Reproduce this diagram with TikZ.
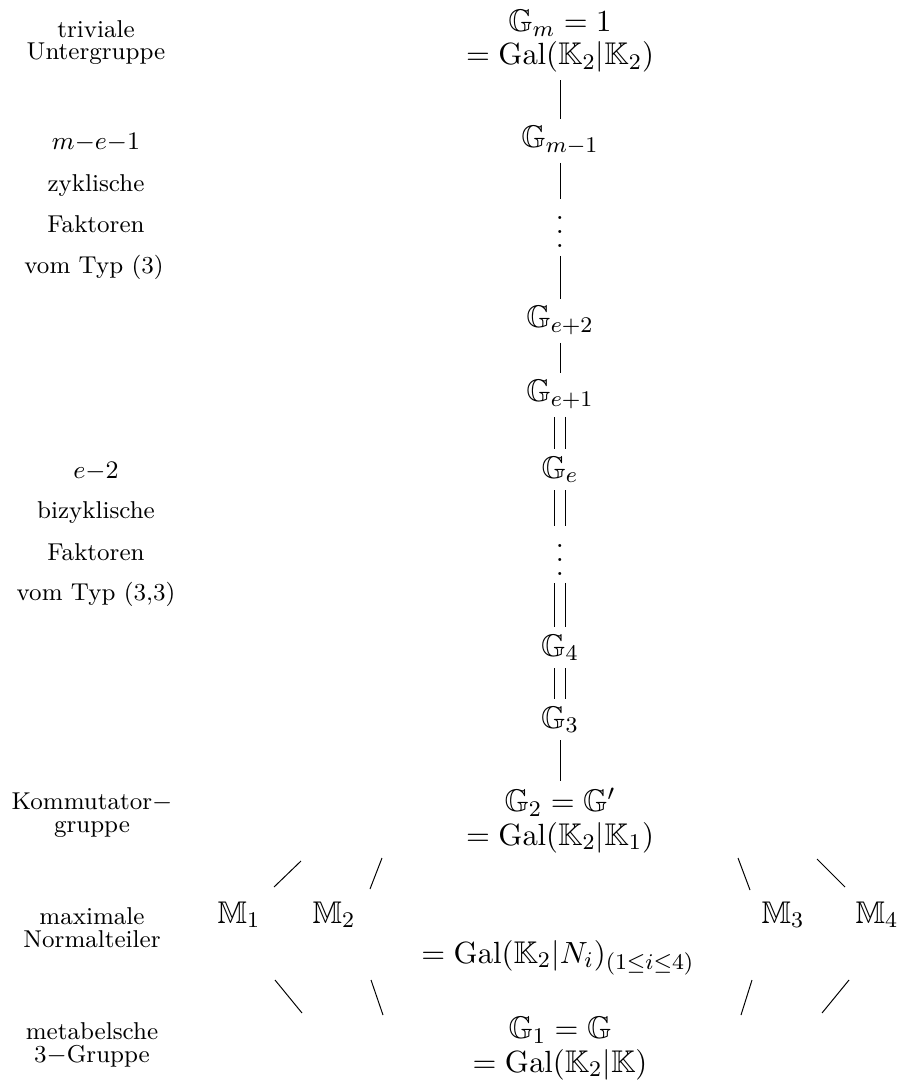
\documentclass[tikz,border=0pt]{standalone}
\usepackage{amssymb}
\newcommand{\GG}{\mathbb{G}}
\newcommand{\KK}{\mathbb{K}}
\newcommand{\MM}{\mathbb{M}}
\newcommand{\Gal}{\mathrm{Gal}}
% three stacked dots, slightly wider spaced than \vdots
\newcommand{\vdotsw}{\vbox{\kern3.5pt\baselineskip5pt\lineskiplimit0pt\hbox{.}\hbox{.}\hbox{.}}}
\begin{document}
\begin{tikzpicture}[x=0.35714pt,y=-0.35714pt,
  grp/.style={inner sep=0pt, outer sep=0pt, font=\fontsize{11.2}{11.8}\selectfont, align=center, anchor=base},
  lab/.style={inner sep=0pt, outer sep=0pt, font=\fontsize{8.7}{7.9}\selectfont, align=center, anchor=base},
  bar/.style={line width=0.35pt, shorten <=2.8pt, shorten >=2.8pt},
  dbar/.style={bar, double, double distance=3.9pt},
  slant/.style={line width=0.35pt}]
\useasboundingbox (0,0) rectangle (900,1081);

% subgroup chain (two-line nodes sit on the baseline of their last line)
\node[grp] (gm)  at (560,65)   {$\GG_m = 1$\\$= \Gal(\KK_2|\KK_2)$};
\node[grp] (gm1) at (560,148)  {$\GG_{m-1}$};
\node[grp] (d1)  at (560,248)  {\vdotsw};
\node[grp] (ge2) at (560,328)  {$\GG_{e+2}$};
\node[grp] (ge1) at (560,402)  {$\GG_{e+1}$};
\node[grp] (ge)  at (560,478)  {$\GG_e$};
\node[grp] (d2)  at (560,575)  {\vdotsw};
\node[grp] (g4)  at (560,656)  {$\GG_4$};
\node[grp] (g3)  at (560,728)  {$\GG_3$};
\node[grp] (g2)  at (560,845)  {$\GG_2 = \GG'$\\$= \Gal(\KK_2|\KK_1)$};
\node[grp] (m1)  at (239,923)  {$\MM_1$};
\node[grp] (m2)  at (334,923)  {$\MM_2$};
\node[grp] (m3)  at (783,923)  {$\MM_3$};
\node[grp] (m4)  at (877,923)  {$\MM_4$};
\node[grp] (ni)  at (558,963)  {$= \Gal(\KK_2|N_i)_{(1\le i\le 4)}$};
\node[grp] (g1)  at (560,1072) {$\GG_1 = \GG$\\$= \Gal(\KK_2|\KK)$};

% inclusions
\draw[bar]  (gm)  -- (gm1);
\draw[bar]  (gm1) -- (d1);
\draw[bar]  (d1)  -- (ge2);
\draw[bar]  (ge2) -- (ge1);
\draw[dbar] (ge1) -- (ge);
\draw[dbar] (ge)  -- (d2);
\draw[dbar] (d2)  -- (g4);
\draw[dbar] (g4)  -- (g3);
\draw[bar]  (g3)  -- (g2);

% strokes between G_2, the maximal normal subgroups and G_1
\coordinate (ua1) at (301,861); \coordinate (ub1) at (274,887);
\coordinate (ua2) at (382,858); \coordinate (ub2) at (370,889);
\coordinate (ua3) at (738,858); \coordinate (ub3) at (750,890);
\coordinate (ua4) at (817,859); \coordinate (ub4) at (845,887);
\coordinate (la1) at (275,980); \coordinate (lb1) at (302,1013);
\coordinate (la2) at (371,980); \coordinate (lb2) at (383,1015);
\coordinate (la3) at (752,980); \coordinate (lb3) at (741,1015);
\coordinate (la4) at (849,980); \coordinate (lb4) at (822,1013);
\foreach \i in {1,...,4} {
  \draw[slant] (ua\i) -- (ub\i);
  \draw[slant] (la\i) -- (lb\i);
}

% descriptions
\node[lab] (l1)  at (96,60)   {triviale\\Untergruppe};
\node[lab] (l2)  at (96,150)  {$m{-}e{-}1$};
\node[lab] (l3)  at (96,192)  {zyklische};
\node[lab] (l4)  at (96,233)  {Faktoren};
\node[lab] (l5)  at (94,274)  {vom Typ (3)};
\node[lab] (l6)  at (96,478)  {$e{-}2$};
\node[lab] (l7)  at (96,519)  {bizyklische};
\node[lab] (l8)  at (96,560)  {Faktoren};
\node[lab] (l9)  at (96,600)  {vom Typ (3,3)};
\node[lab] (l10) at (92,832)  {Kommutator$-$\\gruppe};
\node[lab] (l11) at (92,947)  {maximale\\Normalteiler};
\node[lab] (l12) at (92,1062) {metabelsche\\3$-$Gruppe};
\end{tikzpicture}
\end{document}
